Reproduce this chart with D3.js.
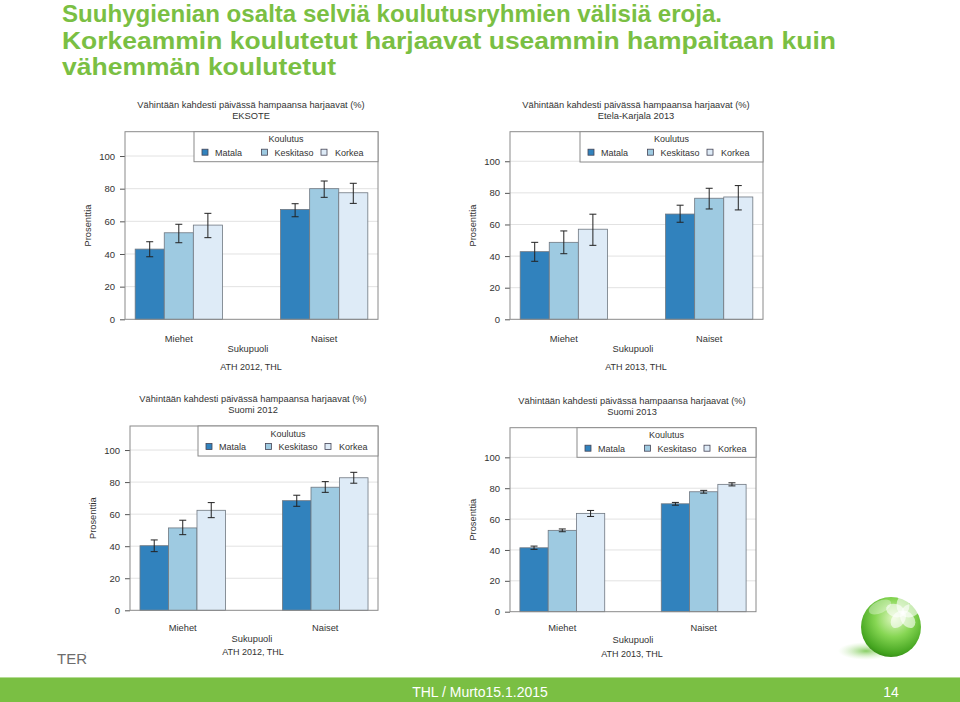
<!DOCTYPE html>
<html>
<head>
<meta charset="utf-8">
<script src="https://cdn.jsdelivr.net/npm/d3@7"></script>
<style>
  html, body { margin: 0; padding: 0; background: #fff; }
  svg { display: block; }
  text { font-family: "Liberation Sans", Arial, sans-serif; }
</style>
</head>
<body>
<svg id="chart" width="960" height="702"></svg>
<script>
// ---------------- DATA ----------------
const groups = ["Miehet", "Naiset"];
const levels = ["Matala", "Keskitaso", "Korkea"];
const yTicks = [0, 20, 40, 60, 80, 100];
const chartTitle = "Vähintään kahdesti päivässä hampaansa harjaavat (%)";
const subtitles = ["EKSOTE", "Etela-Karjala 2013", "Suomi 2012", "Suomi 2013"];
const sources = ["ATH 2012, THL", "ATH 2013, THL", "ATH 2012, THL", "ATH 2013, THL"];

// values [Miehet], [Naiset] ; order Matala, Keskitaso, Korkea
const eksoteValues = [[43.0, 53.0, 57.7], [67.3, 80.0, 77.5]];
const eksoteLower  = [[38.3, 46.9, 50.0], [62.8, 74.7, 71.0]];
const eksoteUpper  = [[47.5, 58.2, 64.9], [70.8, 84.7, 83.3]];

const ekValues = [[42.8, 48.7, 57.0], [66.6, 76.6, 77.4]];
const ekLower  = [[36.7, 41.5, 46.8], [61.4, 69.8, 69.2]];
const ekUpper  = [[48.7, 55.9, 66.5], [72.2, 82.9, 84.6]];

const suomi12Values = [[40.3, 51.4, 62.4], [68.4, 76.8, 82.7]];
const suomi12Lower  = [[36.6, 47.2, 57.8], [64.9, 73.6, 79.3]];
const suomi12Upper  = [[43.9, 56.2, 67.2], [71.8, 80.3, 86.1]];

const suomi13Values = [[41.4, 52.7, 63.7], [69.9, 77.7, 82.5]];
const suomi13Lower  = [[40.4, 51.8, 61.7], [69.0, 76.8, 81.5]];
const suomi13Upper  = [[42.5, 53.6, 65.6], [70.8, 78.6, 83.5]];

const headline = [
  "Suuhygienian osalta selviä koulutusryhmien välisiä eroja.",
  "Korkeammin koulutetut harjaavat useammin hampaitaan kuin",
  "vähemmän koulutetut"
];
const footerText = "THL / Murto15.1.2015";
const pageNumber = "14";

// ---------------- LAYOUT / STYLE ----------------
const colors = ["#3182bd", "#9ecae1", "#deebf7"];
const green = "#7abf43";
const textCol = "#333";

const layouts = [
  {left:125, right:378, top:131.7, y0:319.3, ymax:114.9, legX:194, legY:161.7,
   tcx:251, t1:107.5, t2:118.5, ylabX:88, grpY:341.5, axY:351.5, srcY:369.5, axX:248},
  {left:510, right:763, top:131.7, y0:319.3, ymax:118.7, legX:580, legY:162,
   tcx:636, t1:107.5, t2:118.5, ylabX:473, grpY:341.5, axY:351.5, srcY:369.5, axX:633},
  {left:130, right:378, top:426, y0:610.3, ymax:115.0, legX:198, legY:456,
   tcx:253, t1:402, t2:413, ylabX:93, grpY:631, axY:642, srcY:655, axX:252},
  {left:510, right:756, top:427.7, y0:611.7, ymax:119.2, legX:577, legY:457.3,
   tcx:632, t1:404, t2:414.5, ylabX:473, grpY:631, axY:643, srcY:656.5, axX:633}
];

const svg = d3.select("#chart");

// ---------------- HEADLINE ----------------
const headWidths = [660, 774, 274];
headline.forEach((t, i) => {
  svg.append("text")
    .attr("x", 62).attr("y", 22 + i * 26.5)
    .attr("font-size", 24).attr("font-weight", "bold")
    .style("font-family", "'Liberation Sans Narrow','Arial Narrow','Liberation Sans',Arial,sans-serif")
    .attr("fill", green)
    .attr("textLength", headWidths[i]).attr("lengthAdjust", "spacingAndGlyphs")
    .text(t);
});

// ---------------- PANELS ----------------
function drawPanel(cfg, values, lower, upper, subtitle, source) {
  const g = svg.append("g");
  const y = d3.scaleLinear().domain([0, cfg.ymax]).range([cfg.y0, cfg.top]);
  const x0 = d3.scaleBand().domain(groups).range([cfg.left, cfg.right])
    .paddingInner(0.4).paddingOuter(0.07);
  const x1 = d3.scaleBand().domain(levels).range([0, x0.bandwidth()]);

  // grid
  g.selectAll("line.grid").data(yTicks.filter(t => t > 0)).join("line")
    .attr("class", "grid")
    .attr("x1", cfg.left).attr("x2", cfg.right)
    .attr("y1", d => y(d)).attr("y2", d => y(d))
    .attr("stroke", "#e2e2e2").attr("stroke-width", 1);

  // axis
  const ax = g.append("g").attr("transform", `translate(${cfg.left},0)`)
    .call(d3.axisLeft(y).tickValues(yTicks).tickSize(5).tickPadding(5));
  ax.select(".domain").remove();
  ax.selectAll(".tick line").attr("stroke", "#555");
  ax.selectAll(".tick text").attr("font-size", 9.5).attr("fill", textCol)
    .style("font-family", "'Liberation Sans',Arial,sans-serif");

  // bars
  groups.forEach((grp, gi) => {
    const gg = g.append("g").attr("transform", `translate(${x0(grp)},0)`);
    gg.selectAll("rect").data(levels).join("rect")
      .attr("x", d => x1(d)).attr("width", x1.bandwidth())
      .attr("y", (d, j) => y(values[gi][j]))
      .attr("height", (d, j) => cfg.y0 - y(values[gi][j]))
      .attr("fill", (d, j) => colors[j])
      .attr("stroke", "#6f7780").attr("stroke-width", 0.8);
    // error bars
    levels.forEach((lv, j) => {
      const cx = x1(lv) + x1.bandwidth() / 2;
      const yl = y(lower[gi][j]), yu = y(upper[gi][j]);
      gg.append("line").attr("x1", cx).attr("x2", cx).attr("y1", yl).attr("y2", yu)
        .attr("stroke", "#222").attr("stroke-width", 1);
      [yl, yu].forEach(yy => {
        gg.append("line").attr("x1", cx - 3.5).attr("x2", cx + 3.5).attr("y1", yy).attr("y2", yy)
          .attr("stroke", "#222").attr("stroke-width", 1);
      });
    });
  });

  // frame
  g.append("rect").attr("x", cfg.left).attr("y", cfg.top)
    .attr("width", cfg.right - cfg.left).attr("height", cfg.y0 - cfg.top)
    .attr("fill", "none").attr("stroke", "#8a8a8a").attr("stroke-width", 1);

  // legend
  g.append("rect").attr("x", cfg.legX).attr("y", cfg.top)
    .attr("width", cfg.right - cfg.legX).attr("height", cfg.legY - cfg.top)
    .attr("fill", "#fff").attr("stroke", "#8a8a8a").attr("stroke-width", 1);
  const legCx = (cfg.legX + cfg.right) / 2;
  g.append("text").attr("x", legCx).attr("y", cfg.top + 10.5)
    .attr("text-anchor", "middle").attr("font-size", 9).attr("fill", textCol).text("Koulutus");
  const swX = [8, 67.5, 127], lbX = [21, 80.5, 141];
  levels.forEach((lv, j) => {
    g.append("rect").attr("x", cfg.legX + swX[j]).attr("y", cfg.top + 17.5)
      .attr("width", 6).attr("height", 6)
      .attr("fill", colors[j]).attr("stroke", "#445").attr("stroke-width", 0.8);
    g.append("text").attr("x", cfg.legX + lbX[j]).attr("y", cfg.top + 24)
      .attr("font-size", 9).attr("fill", textCol).text(lv);
  });

  // titles
  g.append("text").attr("x", cfg.tcx).attr("y", cfg.t1).attr("text-anchor", "middle")
    .attr("font-size", 9.3).attr("fill", textCol).text(chartTitle);
  g.append("text").attr("x", cfg.tcx).attr("y", cfg.t2).attr("text-anchor", "middle")
    .attr("font-size", 9.3).attr("fill", textCol).text(subtitle);

  // axis labels
  g.append("text")
    .attr("transform", `translate(${cfg.ylabX},${(cfg.top + cfg.y0) / 2}) rotate(-90)`)
    .attr("text-anchor", "middle").attr("dy", "0.35em")
    .attr("font-size", 9.3).attr("fill", textCol).text("Prosenttia");
  groups.forEach(grp => {
    g.append("text").attr("x", x0(grp) + x0.bandwidth() / 2).attr("y", cfg.grpY)
      .attr("text-anchor", "middle").attr("font-size", 9.3).attr("fill", textCol).text(grp);
  });
  g.append("text").attr("x", cfg.axX).attr("y", cfg.axY).attr("text-anchor", "middle")
    .attr("font-size", 9.3).attr("fill", textCol).text("Sukupuoli");
  g.append("text").attr("x", cfg.tcx).attr("y", cfg.srcY).attr("text-anchor", "middle")
    .attr("font-size", 9).attr("fill", textCol).text(source);
}

drawPanel(layouts[0], eksoteValues, eksoteLower, eksoteUpper, subtitles[0], sources[0]);
drawPanel(layouts[1], ekValues, ekLower, ekUpper, subtitles[1], sources[1]);
drawPanel(layouts[2], suomi12Values, suomi12Lower, suomi12Upper, subtitles[2], sources[2]);
drawPanel(layouts[3], suomi13Values, suomi13Lower, suomi13Upper, subtitles[3], sources[3]);

// ---------------- DECORATION ----------------
svg.append("text").attr("x", 57).attr("y", 664).attr("font-size", 15)
  .attr("fill", "#6d6d6d").text("TER");
svg.append("text").attr("x", 85).attr("y", 656).attr("font-size", 5)
  .attr("fill", "#999").text("'");

const defs = svg.append("defs");
const sph = defs.append("radialGradient").attr("id", "sph")
  .attr("cx", "0.55").attr("cy", "0.35").attr("r", "0.7");
sph.append("stop").attr("offset", "0").attr("stop-color", "#e2f8c4");
sph.append("stop").attr("offset", "0.45").attr("stop-color", "#86d653");
sph.append("stop").attr("offset", "0.85").attr("stop-color", "#45a520");
sph.append("stop").attr("offset", "1").attr("stop-color", "#2f8013");
const shd = defs.append("radialGradient").attr("id", "shd");
shd.append("stop").attr("offset", "0").attr("stop-color", "#7cc955").attr("stop-opacity", 0.9);
shd.append("stop").attr("offset", "1").attr("stop-color", "#c9eab5").attr("stop-opacity", 0);

svg.append("ellipse").attr("cx", 866).attr("cy", 651).attr("rx", 28).attr("ry", 9)
  .attr("fill", "url(#shd)");
svg.append("circle").attr("cx", 891).attr("cy", 627).attr("r", 30).attr("fill", "url(#sph)");
const flower = svg.append("g").attr("transform", "translate(903,613)");
[0, 72, 144, 216, 288].forEach(a => {
  flower.append("ellipse").attr("cx", 0).attr("cy", -8).attr("rx", 6.5).attr("ry", 9.5)
    .attr("transform", `rotate(${a})`).attr("fill", "#ffffff").attr("opacity", 0.6);
});
svg.append("ellipse").attr("cx", 880).attr("cy", 607).attr("rx", 12).attr("ry", 6)
  .attr("transform", "rotate(-25,880,607)").attr("fill", "#fff").attr("opacity", 0.35);

// footer band
svg.append("rect").attr("x", 0).attr("y", 678).attr("width", 960).attr("height", 24).attr("fill", green);
svg.append("line").attr("x1", 0).attr("x2", 960).attr("y1", 677.5).attr("y2", 677.5)
  .attr("stroke", "#b5dc95").attr("stroke-width", 1);
svg.append("text").attr("x", 480).attr("y", 697).attr("text-anchor", "middle")
  .attr("font-size", 14).attr("fill", "#fff").text(footerText);
svg.append("text").attr("x", 891).attr("y", 697).attr("text-anchor", "middle")
  .attr("font-size", 14).attr("fill", "#fff").text(pageNumber);
</script>
</body>
</html>
